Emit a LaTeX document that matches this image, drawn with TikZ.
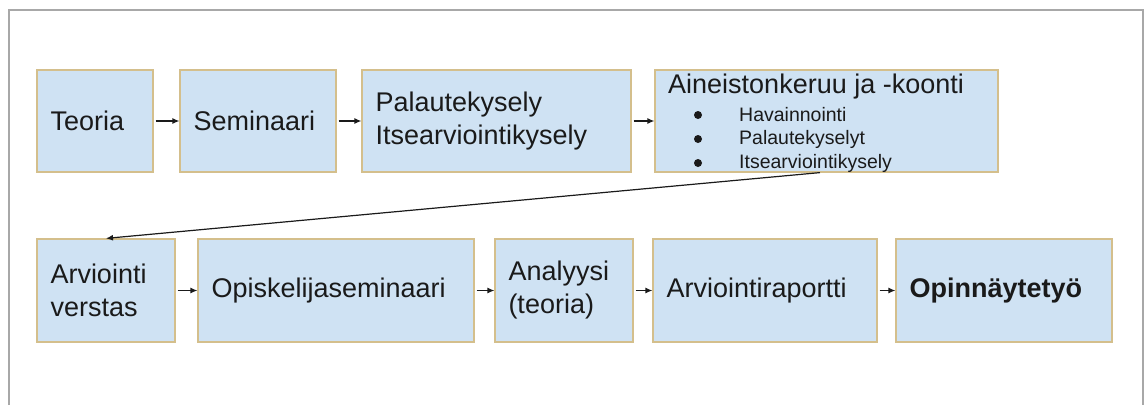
\documentclass[tikz,border=0pt]{standalone}
\usepackage{fontspec}
\setmainfont{Liberation Sans}
\usetikzlibrary{arrows.meta,calc}
\definecolor{boxfill}{HTML}{CFE2F3}
\definecolor{boxline}{HTML}{D4BF8C}
\definecolor{frameline}{HTML}{A8A8A8}
\definecolor{txt}{HTML}{1A1A1A}
\tikzset{
  box/.style={draw=boxline, fill=boxfill, line width=1.2pt, inner xsep=13.5pt, inner ysep=0pt,
    align=left, text=txt, font=\fontsize{27}{33}\selectfont},
  toprow/.style={minimum height=102pt},
  botrow/.style={minimum height=103pt},
  item/.style={anchor=west, inner sep=0pt, text=txt, font=\fontsize{19.5}{24}\selectfont},
  dot/.style={circle, fill=txt, inner sep=0pt, minimum size=8pt},
  arr/.style={-{Latex[length=7pt,width=6pt]}, line width=1.2pt, draw=txt, shorten <=2pt}
}
\begin{document}
\begin{tikzpicture}[x=1pt,y=-1pt]
\useasboundingbox (0,0) rectangle (1146,405);
\fill[white] (0,0) rectangle (1146,405);
\draw[frameline, line width=1.5pt] (9,405) -- (9,10) -- (1143,10) -- (1143,405);

% top row
\node[box, toprow, text width=89pt] (b1) at (95,121) {Teoria};
\node[box, toprow, text width=129pt] (b2) at (258,121) {Seminaari};
\node[box, toprow, text width=242pt] (b3) at (496.5,121) {Palautekysely\\Itsearviointikysely};
\node[box, toprow, text width=316pt] (b4) at (826.5,121) {};
\node[item, font=\fontsize{27}{33}\selectfont] (h4) at (668,87) {Aineistonkeruu ja -koonti};
\node[dot] (d1) at (698,115) {};
\node[dot] (d2) at (698,139) {};
\node[dot] (d3) at (698,163) {};
\node[item] (i1) at (739,115) {Havainnointi};
\node[item] (i2) at (739,139) {Palautekyselyt};
\node[item] (i3) at (739,163) {Itsearviointikysely};

% bottom row
\node[box, botrow, text width=111pt] (b5) at (106,290.5) {Arviointi\\verstas};
\node[box, botrow, text width=249pt] (b6) at (336,290.5) {Opiskelijaseminaari};
\node[box, botrow, text width=111pt] (b7) at (564,290.5) {Analyysi\\(teoria)};
\node[box, botrow, text width=197pt] (b8) at (765,290.5) {Arviointiraportti};
\node[box, botrow, text width=189pt, font=\fontsize{27}{33}\selectfont\bfseries] (b9) at (1004,290.5) {Opinnäytetyö};

% connectors
\draw[arr] (b1.east) -- (b2.west);
\draw[arr] (b2.east) -- (b3.west);
\draw[arr] (b3.east) -- (b4.west);
\draw[arr, shorten <=0pt] ($(b4.south west)!0.481!(b4.south east)$) -- (b5.north);
\draw[arr] (b5.east) -- (b6.west);
\draw[arr] (b6.east) -- (b7.west);
\draw[arr] (b7.east) -- (b8.west);
\draw[arr] (b8.east) -- (b9.west);
\end{tikzpicture}
\end{document}
